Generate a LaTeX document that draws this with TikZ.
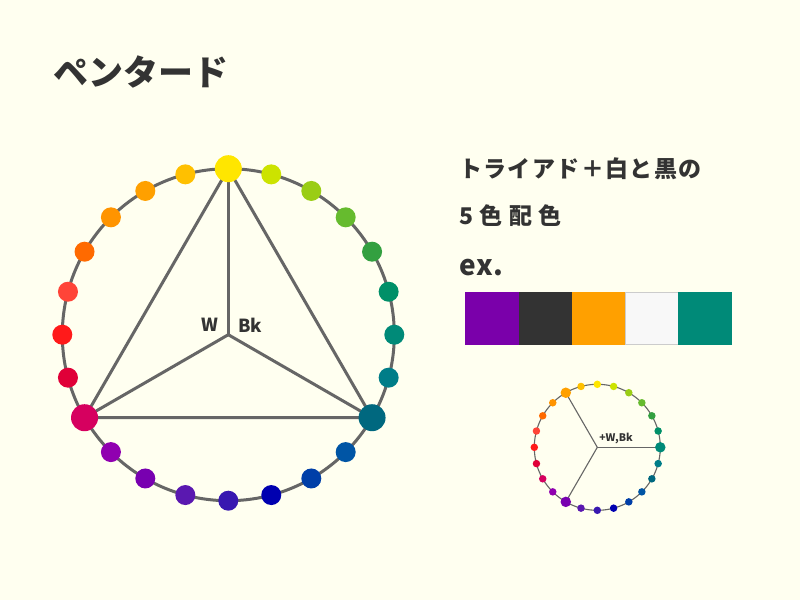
\documentclass[tikz,border=0pt]{standalone}
\usepackage{fontspec}
\setmainfont{Noto Sans CJK JP}
\definecolor{bg}{HTML}{FFFFF0}
\definecolor{ink}{HTML}{333333}
\definecolor{wheel}{HTML}{666666}
\definecolor{swA}{HTML}{7A00AA}
\definecolor{swB}{HTML}{333333}
\definecolor{swC}{HTML}{FFA000}
\definecolor{swD}{HTML}{F8F8F8}
\definecolor{swE}{HTML}{008A78}
\tikzset{
  dotbig/.style={circle,inner sep=0pt,minimum size=27pt},
  dotsmall/.style={circle,inner sep=0pt,minimum size=20pt},
  mdotbig/.style={circle,inner sep=0pt,minimum size=10.5pt},
  mdotsmall/.style={circle,inner sep=0pt,minimum size=7.5pt},
  bigline/.style={draw=wheel,line width=3pt},
  smallline/.style={draw=wheel,line width=1.1pt},
  jtext/.style={text=ink,anchor=west,inner sep=0pt,font=\bfseries},
  swatch/.style={inner sep=0pt,minimum width=53.3pt,minimum height=52.6pt,anchor=north west},
}
\begin{document}
\begin{tikzpicture}[x=1pt,y=-1pt]
\useasboundingbox (0,0) rectangle (800,600);
\fill[bg] (0,0) rectangle (800,600);
% title
\node[jtext] (title) at (53,72) {\fontsize{35}{35}\selectfont ペンタード};
% big wheel
\def\cx{228.3}\def\cy{334.7}\def\R{166}
\coordinate (BC) at (\cx,\cy);
\draw[bigline] (BC) circle (\R);
\foreach \a in {90,210,330}{
  \coordinate (B\a) at ({\cx+\R*cos(\a)},{\cy-\R*sin(\a)});
}
\draw[bigline,line join=round] (B90) -- (B210) -- (B330) -- cycle;
\draw[bigline] (BC) -- (B90);
\draw[bigline] (BC) -- (B210);
\draw[bigline] (BC) -- (B330);
\foreach \a/\c in {90/FFE600,75/CCE300,60/9ACD15,45/66BB2E,30/33A040,15/009068,0/008A78,-15/007D88,-30/00687F,-45/0055A5,-60/003FA8,-75/0000B0,-90/3818B0,-105/5A18B0,-120/7800B0,-135/9000B0,-150/D6005F,-165/E00038,180/FF1A1A,165/FF4438,150/FF6A00,135/FF9400,120/FFA000,105/FFC000}{
  \definecolor{tmp}{HTML}{\c}
  \ifnum\a=90 \def\st{dotbig}\else\ifnum\a=-150 \def\st{dotbig}\else\ifnum\a=-30 \def\st{dotbig}\else\def\st{dotsmall}\fi\fi\fi
  \node[\st,fill=tmp] (bd\a) at ({\cx+\R*cos(\a)},{\cy-\R*sin(\a)}) {};
}
\node[text=ink,font=\bfseries\fontsize{18}{18}\selectfont,inner sep=0pt] (W) at (210,325) {W};
\node[text=ink,font=\bfseries\fontsize{18}{18}\selectfont,inner sep=0pt] (Bk) at (250,325) {Bk};
% right text
\node[jtext] (t1) at (459,169) {\fontsize{23}{23}\selectfont\addfontfeature{LetterSpace=6}トライアド＋白と黒の};
\node[jtext] (t2) at (459,216) {\fontsize{23}{23}\selectfont 5\hspace{6.5pt}色\hspace{6.5pt}配\hspace{6.5pt}色};
\node[jtext] (t3) at (459,268) {\fontsize{28}{28}\selectfont\addfontfeature{LetterSpace=4}ex.};
% swatches
\node[swatch,fill=swA] (s1) at (465,291.7) {};
\node[swatch,fill=swB] (s2) at (518.3,291.7) {};
\node[swatch,fill=swC] (s3) at (571.6,291.7) {};
\node[swatch,fill=swD,draw=black!20,line width=0.8pt] (s4) at (624.9,291.7) {};
\node[swatch,fill=swE] (s5) at (678.2,291.7) {};
% small wheel
\def\sx{597.3}\def\sy{447.3}\def\r{63}
\coordinate (SC) at (\sx,\sy);
\draw[smallline] (SC) circle (\r);
\foreach \a in {0,120,240}{
  \coordinate (S\a) at ({\sx+\r*cos(\a)},{\sy-\r*sin(\a)});
  \draw[smallline] (SC) -- (S\a);
}
\foreach \a/\c in {90/FFE600,75/CCE300,60/9ACD15,45/66BB2E,30/33A040,15/009068,0/008A78,-15/007D88,-30/00687F,-45/0055A5,-60/003FA8,-75/0000B0,-90/3818B0,-105/5A18B0,-120/7800B0,-135/9000B0,-150/D6005F,-165/E00038,180/FF1A1A,165/FF4438,150/FF6A00,135/FF9400,120/FFA000,105/FFC000}{
  \definecolor{tmp}{HTML}{\c}
  \ifnum\a=0 \def\st{mdotbig}\else\ifnum\a=120 \def\st{mdotbig}\else\ifnum\a=-120 \def\st{mdotbig}\else\def\st{mdotsmall}\fi\fi\fi
  \node[\st,fill=tmp] (sd\a) at ({\sx+\r*cos(\a)},{\sy-\r*sin(\a)}) {};
}
\node[text=ink,font=\bfseries\fontsize{10.5}{10.5}\selectfont,inner sep=0pt] (lab) at (616,438) {+W,Bk};
\end{tikzpicture}
\end{document}
